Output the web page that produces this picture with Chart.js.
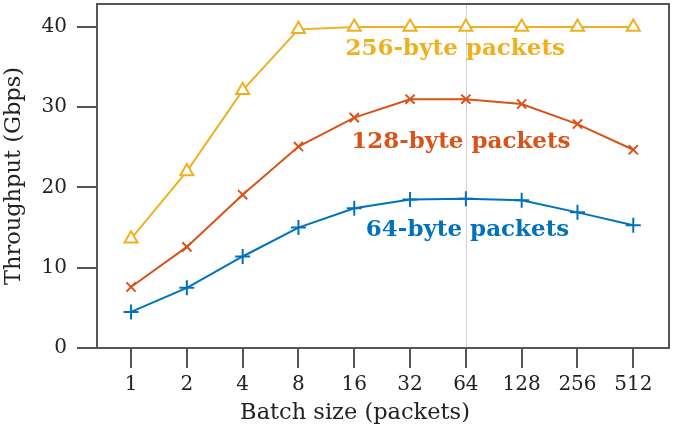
<!DOCTYPE html>
<html><head><meta charset="utf-8">
<script src="https://cdn.jsdelivr.net/npm/chart.js@4"></script>
<style>html,body{margin:0;padding:0;background:#fff}#wrap{width:678px;height:430px;position:relative}</style>
</head><body><div id="wrap"><canvas id="c" width="678" height="430"></canvas></div>
<script>
// ---- data ----
const batchSizes = ['1','2','4','8','16','32','64','128','256','512'];
const tput64  = [4.5, 7.5, 11.4, 15.0, 17.4, 18.5, 18.6, 18.4, 16.9, 15.3];
const tput128 = [7.6, 12.6, 19.1, 25.1, 28.7, 31.0, 31.0, 30.4, 27.9, 24.7];
const tput256 = [13.6, 22.0, 32.1, 39.7, 40.0, 40.0, 40.0, 40.0, 40.0, 40.0];
const yTicks = [0, 10, 20, 30, 40];
const seriesNames = ['64-byte packets', '128-byte packets', '256-byte packets'];
const xTitle = 'Batch size (packets)';
const yTitle = 'Throughput (Gbps)';
const markerLine = '64';

// ---- styles ----
const colors = ['#0072BD', '#D95319', '#EDB120'];
const axisColor = '#555555';
const textColor = '#222222';
const serif = '"DejaVu Serif", "Liberation Serif", serif';
// label anchors in data units (x index, y value)
const labelAnchors = [
  {x: 6.03, y: 14.7},
  {x: 5.91, y: 25.65},
  {x: 5.81, y: 37.2}
];

const toPts = arr => arr.map((v, i) => ({x: i, y: v}));

const framePlugin = {
  id: 'frame',
  beforeDatasetsDraw(chart) {
    const {ctx, chartArea: a, scales} = chart;
    const xi = batchSizes.indexOf(markerLine);
    const px = Math.round(scales.x.getPixelForValue(xi)) + 0.5;
    ctx.save();
    ctx.strokeStyle = '#d0d0d0';
    ctx.lineWidth = 1;
    ctx.beginPath();
    ctx.moveTo(px, a.top); ctx.lineTo(px, a.bottom);
    ctx.stroke();
    ctx.restore();
  },
  afterDatasetsDraw(chart) {
    const {ctx, chartArea: a, scales} = chart;
    ctx.save();
    ctx.strokeStyle = axisColor;
    ctx.lineWidth = 2;
    ctx.strokeRect(a.left, a.top, a.right - a.left, a.bottom - a.top);
    ctx.font = 'bold 23px ' + serif;
    ctx.textAlign = 'center';
    ctx.textBaseline = 'middle';
    seriesNames.forEach((name, i) => {
      ctx.fillStyle = colors[i];
      ctx.fillText(name, scales.x.getPixelForValue(labelAnchors[i].x), scales.y.getPixelForValue(labelAnchors[i].y));
    });
    // x axis title (offset left of the axis centre, as in the source figure)
    ctx.fillStyle = textColor;
    ctx.font = '22.5px ' + serif;
    ctx.textBaseline = 'middle';
    ctx.fillText(xTitle, (a.left + a.right) / 2 - 28, chart.height - 17);
    ctx.restore();
  }
};

const mk = (label, data, color, style, radius) => ({
  label, data: toPts(data), borderColor: color, backgroundColor: color,
  borderWidth: 2, pointStyle: style, pointRadius: radius, pointHoverRadius: radius,
  pointBorderWidth: 2, pointBorderColor: color,
  pointBackgroundColor: style === 'triangle' ? '#ffffff' : color,
  tension: 0, fill: false, clip: false
});

const zeroPad = s => { s.paddingLeft = 0; s.paddingRight = 0; s.paddingTop = 0; s.paddingBottom = 0; };

new Chart(document.getElementById('c'), {
  type: 'line',
  data: {
    datasets: [
      mk(seriesNames[2], tput256, colors[2], 'triangle', 7.5),
      mk(seriesNames[1], tput128, colors[1], 'crossRot', 6.5),
      mk(seriesNames[0], tput64, colors[0], 'cross', 7.5)
    ]
  },
  options: {
    responsive: false,
    animation: false,
    devicePixelRatio: 1,
    layout: {autoPadding: false, padding: {top: 4, right: 9, left: 0, bottom: 0}},
    plugins: {legend: {display: false}, tooltip: {enabled: false}},
    scales: {
      x: {
        type: 'linear', min: -0.61, max: 9.64,
        afterBuildTicks: s => { s.ticks = batchSizes.map((_, i) => ({value: i})); },
        afterFit: s => { s.height = 82; zeroPad(s); },
        ticks: {callback: v => batchSizes[v], color: textColor, font: {family: serif, size: 20}, padding: 5, maxRotation: 0, autoSkip: false},
        grid: {drawOnChartArea: false, drawTicks: true, tickLength: 20, color: axisColor, lineWidth: 2},
        border: {display: true, color: axisColor, width: 2},
        title: {display: false}
      },
      y: {
        min: 0, max: 42.86,
        afterBuildTicks: s => { s.ticks = yTicks.map(v => ({value: v})); },
        afterFit: s => { s.width = 97; zeroPad(s); },
        ticks: {color: textColor, font: {family: serif, size: 20}, padding: 10},
        grid: {drawOnChartArea: false, drawTicks: true, tickLength: 20, color: axisColor, lineWidth: 2},
        border: {display: true, color: axisColor, width: 2},
        title: {display: true, text: yTitle, color: textColor, font: {family: serif, size: 22.5}, padding: {top: 1, bottom: 0}}
      }
    }
  },
  plugins: [framePlugin]
});
</script></body></html>
